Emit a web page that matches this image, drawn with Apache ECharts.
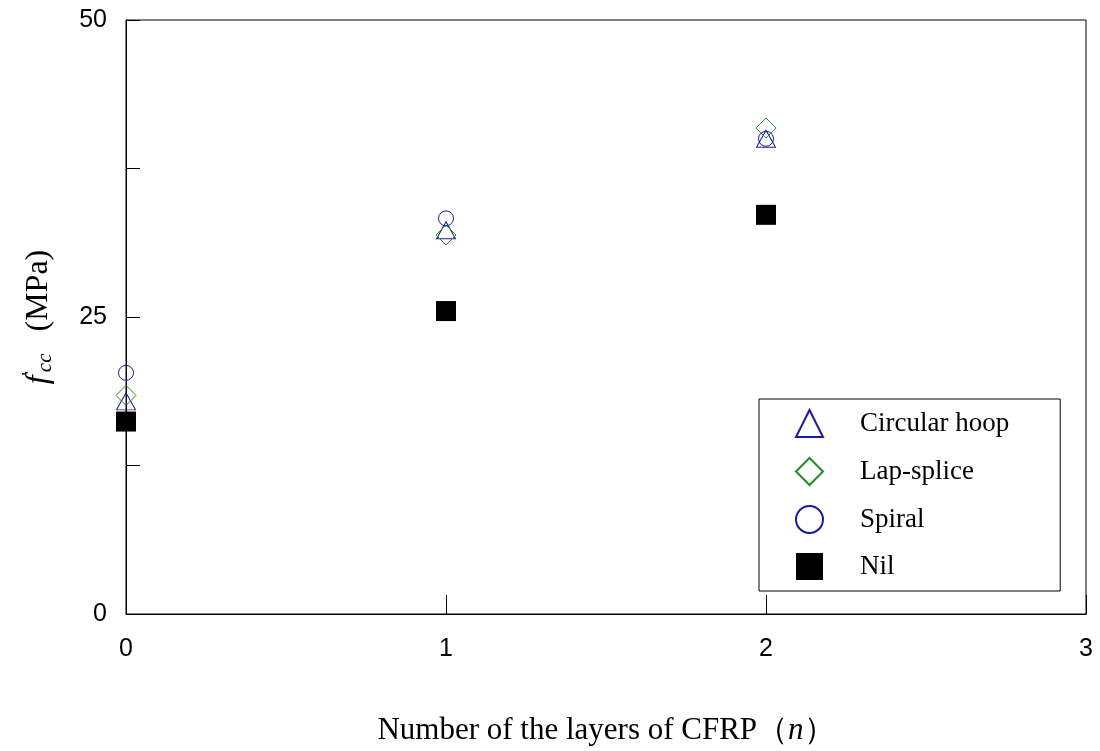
<!DOCTYPE html>
<html>
<head>
<meta charset="utf-8">
<script src="https://cdn.jsdelivr.net/npm/echarts@6/dist/echarts.min.js"></script>
<style>
  html, body { margin: 0; padding: 0; background: #fff; }
  #chart { width: 1100px; height: 751px; }
</style>
</head>
<body>
<div id="chart"></div>
<script>
// Confined concrete strength f'cc versus number of CFRP layers
const layers = [0, 1, 2];
const circularHoop = [17.9, 32.3, 40.0];
const lapSplice = [18.4, 31.9, 40.9];
const spiral = [20.3, 33.3, 40.0];
const nil = [16.2, 25.5, 33.6];
const xTickLabels = ['0', '1', '2', '3'];
const yTickLabels = { 0: '0', 25: '25', 50: '50' };

const BLUE = '#1a1a9c';
const GREEN = '#228a22';
const SERIF = '"Liberation Serif", "Times New Roman", serif';
const SANS = '"Liberation Sans", Arial, sans-serif';

function pairs(ys) {
  return layers.map((x, i) => [x, ys[i]]);
}

const chart = echarts.init(document.getElementById('chart'), null, { renderer: 'canvas' });

chart.setOption({
  animation: false,
  backgroundColor: '#fff',
  grid: {
    left: 126, right: 14, top: 20, bottom: 137,
    show: true, borderColor: '#000', borderWidth: 1
  },
  xAxis: {
    type: 'value', min: 0, max: 3, interval: 1,
    axisLine: { show: true, lineStyle: { color: '#000', width: 1 } },
    axisTick: { show: true, inside: true, length: 19, lineStyle: { color: '#000' } },
    splitLine: { show: false },
    axisLabel: {
      margin: 23, color: '#000', fontSize: 25, fontFamily: SANS,
      formatter: v => xTickLabels[Math.round(v)] ?? ''
    },
    name: 'Number of the layers of CFRP\uFF08{i|n}\uFF09',
    nameLocation: 'middle',
    nameGap: 101,
    nameTextStyle: {
      color: '#000', fontSize: 31, fontFamily: SERIF,
      rich: { i: { fontSize: 31, fontFamily: SERIF, fontStyle: 'italic', color: '#000' } }
    }
  },
  yAxis: {
    type: 'value', min: 0, max: 50, interval: 12.5,
    axisLine: { show: true, lineStyle: { color: '#000', width: 1 } },
    axisTick: { show: true, inside: true, length: 14, lineStyle: { color: '#000' } },
    splitLine: { show: false },
    axisLabel: {
      margin: 19, color: '#000', fontSize: 25, fontFamily: SANS,
      formatter: v => yTickLabels[v] ?? ''
    },
    name: "{f|f}{p|'}{s|cc}{g| }{u|(MPa)}",
    nameLocation: 'middle',
    nameGap: 67,
    nameRotate: 90,
    nameTextStyle: {
      color: '#000', fontFamily: SERIF, fontSize: 32,
      rich: {
        f: { fontSize: 32, fontFamily: SERIF, fontStyle: 'italic', color: '#000', lineHeight: 40 },
        p: { fontSize: 18, fontFamily: SERIF, color: '#000', verticalAlign: 'top', padding: [2, 0, 0, 0] },
        s: { fontSize: 21, fontFamily: SERIF, fontStyle: 'italic', color: '#000', verticalAlign: 'bottom', padding: [0, 0, 3, 0] },
        g: { fontSize: 32, fontFamily: SERIF, width: 22 },
        u: { fontSize: 32, fontFamily: SERIF, color: '#000' }
      }
    }
  },
  legend: {
    orient: 'vertical',
    left: 759, top: 399,
    padding: [10, 51, 11, 36],
    borderColor: '#000', borderWidth: 1, borderRadius: 0,
    backgroundColor: '#fff',
    itemWidth: 27, itemHeight: 27, itemGap: 19,
    textStyle: { color: '#000', fontSize: 27, fontFamily: SERIF, padding: [0, 0, 0, 32] },
    data: ['Circular hoop', 'Lap-splice', 'Spiral', 'Nil']
  },
  series: [
    {
      name: 'Circular hoop', type: 'scatter', symbol: 'triangle', symbolSize: [19, 17],
      itemStyle: { color: 'transparent', borderColor: BLUE, borderWidth: 1, opacity: 1 },
      data: pairs(circularHoop), z: 2
    },
    {
      name: 'Lap-splice', type: 'scatter', symbol: 'diamond', symbolSize: 20,
      itemStyle: { color: 'transparent', borderColor: GREEN, borderWidth: 1, opacity: 1 },
      data: pairs(lapSplice), z: 3
    },
    {
      name: 'Spiral', type: 'scatter', symbol: 'circle', symbolSize: 15,
      itemStyle: { color: 'transparent', borderColor: BLUE, borderWidth: 1, opacity: 1 },
      data: pairs(spiral), z: 4
    },
    {
      name: 'Nil', type: 'scatter', symbol: 'rect', symbolSize: 20,
      itemStyle: { color: '#000', borderColor: '#000', borderWidth: 0, opacity: 1 },
      data: pairs(nil), z: 5
    }
  ]
});
</script>
</body>
</html>
